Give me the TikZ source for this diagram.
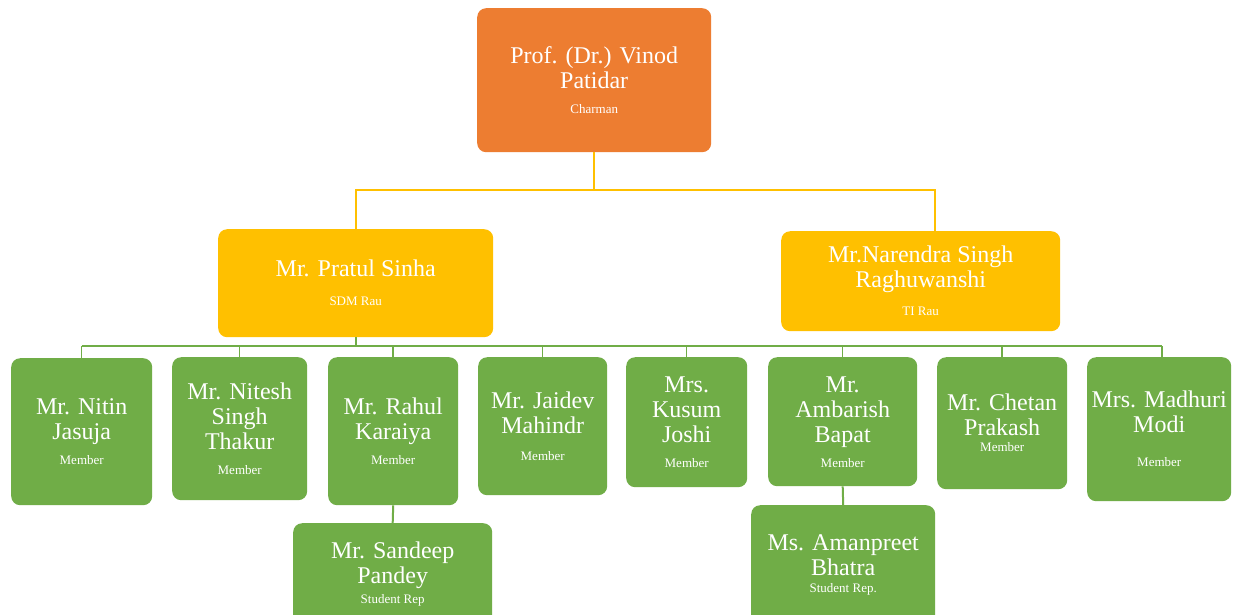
\documentclass[tikz,border=0pt]{standalone}
\usepackage{fontspec}
\setmainfont{Liberation Serif}
\usetikzlibrary{positioning, calc}
\definecolor{chairorange}{HTML}{ED7D31}
\definecolor{headyellow}{HTML}{FFC000}
\definecolor{membergreen}{HTML}{70AD47}
\newcommand{\rolefont}{\fontsize{13}{15}\selectfont}

\tikzset{
    orgbox/.style={rounded corners=9pt, text=white, align=center, anchor=north west,
        inner sep=2pt, font=\fontsize{24}{25}\selectfont},
    chairbox/.style={orgbox, fill=chairorange},
    headbox/.style={orgbox, fill=headyellow},
    memberbox/.style={orgbox, fill=membergreen},
    yellowline/.style={draw=headyellow, line width=2pt},
    greenline/.style={draw=membergreen, line width=2pt},
}

\begin{document}
\begin{tikzpicture}[x=1pt, y=-1pt]
    \fill[white] (0,0) rectangle (1233,614);
    \useasboundingbox (0,0) rectangle (1233,614);

    % Chairman
    \node[chairbox, minimum width=234pt, minimum height=144pt] (chair) at (477,8)
        {Prof. (Dr.) Vinod\\Patidar\\{\rolefont Charman}};

    % Heads
    \node[headbox, minimum width=275pt, minimum height=108pt] (pratul) at (218,229)
        {Mr. Pratul Sinha\\[4pt]{\rolefont SDM Rau}};
    \node[headbox, minimum width=279pt, minimum height=100pt] (narendra) at (781,231)
        {Mr.Narendra Singh\\Raghuwanshi\\[3pt]{\rolefont TI Rau}};

    % Members
    \node[memberbox, minimum width=141pt, minimum height=147pt] (nitin) at (11,358)
        {Mr. Nitin\\Jasuja\\{\rolefont Member}};
    \node[memberbox, minimum width=135pt, minimum height=143pt] (nitesh) at (172,357)
        {Mr. Nitesh\\Singh\\Thakur\\{\rolefont Member}};
    \node[memberbox, minimum width=130pt, minimum height=148pt] (rahul) at (328,357)
        {Mr. Rahul\\Karaiya\\{\rolefont Member}};
    \node[memberbox, minimum width=129pt, minimum height=138pt] (jaidev) at (478,357)
        {Mr. Jaidev\\Mahindr\\[2pt]{\rolefont Member}};
    \node[memberbox, minimum width=121pt, minimum height=130pt] (kusum) at (626,357)
        {Mrs.\\Kusum\\Joshi\\{\rolefont Member}};
    \node[memberbox, minimum width=149pt, minimum height=129pt] (ambarish) at (768,357)
        {Mr.\\Ambarish\\Bapat\\{\rolefont Member}};
    \node[memberbox, minimum width=130pt, minimum height=132pt] (chetan) at (937,357)
        {Mr. Chetan\\Prakash\\[-9pt]{\rolefont Member}};
    \node[memberbox, minimum width=144pt, minimum height=144pt] (madhuri) at (1087,357)
        {Mrs. Madhuri\\Modi\\[9pt]{\rolefont Member}};

    % Student reps
    \node[memberbox, minimum width=199pt, minimum height=102pt] (sandeep) at (293,523)
        {Mr. Sandeep\\Pandey\\[-5pt]{\rolefont Student Rep}};
    \node[memberbox, minimum width=184pt, minimum height=120pt] (amanpreet) at (751,505)
        {Ms. Amanpreet\\Bhatra\\[-8pt]{\rolefont Student Rep.}};

    % Yellow connectors
    \coordinate (ybus) at (594,190);
    \draw[yellowline] (chair.south) -- (chair.south |- ybus) -| (pratul.north);
    \draw[yellowline] (chair.south |- ybus) -| ([xshift=14pt]narendra.north);

    % Green connectors
    \coordinate (gbus) at (0,346);
    \draw[greenline] (pratul.south) -- (pratul.south |- gbus);
    \draw[greenline] (nitin.north |- gbus) -- ([xshift=3pt]madhuri.north |- gbus);
    \foreach \m in {nitin, nitesh, rahul, jaidev, kusum, ambarish, chetan} {
        \draw[greenline, line width=1.5pt] (\m.north |- gbus) -- (\m.north);
    }
    \draw[greenline, line width=1.5pt] ([xshift=3pt]madhuri.north |- gbus) -- ([xshift=3pt]madhuri.north);
    \draw[greenline] (rahul.south) -- (sandeep.north);
    \draw[greenline] (ambarish.south) -- (amanpreet.north);
\end{tikzpicture}
\end{document}
